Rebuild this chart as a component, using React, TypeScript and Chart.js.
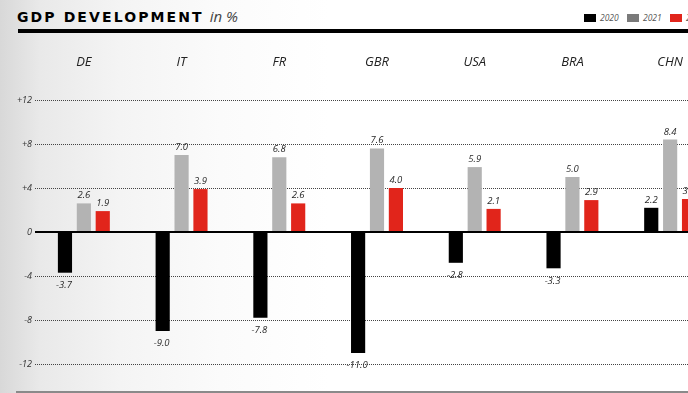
import React, { useEffect, useRef } from "react";
import { Chart, registerables } from "chart.js";

Chart.register(...registerables);

const categories = ["DE", "IT", "FR", "GBR", "USA", "BRA", "CHN"];
const seriesNames = ["2020", "2021", "2022"];
const values2020 = [-3.7, -9.0, -7.8, -11.0, -2.8, -3.3, 2.2];
const values2021 = [2.6, 7.0, 6.8, 7.6, 5.9, 5.0, 8.4];
const values2022 = [1.9, 3.9, 2.6, 4.0, 2.1, 2.9, 3.0];
const yTicks = [-12, -8, -4, 0, 4, 8, 12];

const barColors = ["#000000", "#b3b3b3", "#e1251b"];
const legendColors = ["#000000", "#7a7a7a", "#e1251b"];

const labelPlugin = {
  id: "valueLabels",
  afterDatasetsDraw(chart: any) {
    const ctx = chart.ctx;
    ctx.save();
    ctx.font = "italic 9.5px 'Open Sans', 'Noto Sans', sans-serif";
    ctx.fillStyle = "#2a2a2a";
    ctx.textAlign = "center";
    chart.data.datasets.forEach((ds: any, di: number) => {
      const meta = chart.getDatasetMeta(di);
      meta.data.forEach((el: any, i: number) => {
        const v = ds.data[i];
        const txt = v.toFixed(1);
        if (v >= 0) {
          ctx.textBaseline = "bottom";
          ctx.fillText(txt, el.x, el.y - 3);
        } else {
          ctx.textBaseline = "top";
          ctx.fillText(txt, el.x - 1, el.y + 8);
        }
      });
    });
    ctx.restore();
  },
};

function GdpChart() {
  const ref = useRef<HTMLCanvasElement>(null);
  useEffect(() => {
    if (!ref.current) return;
    const chart = new Chart(ref.current, {
      type: "bar",
      data: {
        labels: categories,
        datasets: [values2020, values2021, values2022].map((d, i) => ({
          label: seriesNames[i],
          data: d,
          backgroundColor: barColors[i],
          borderWidth: 0,
          categoryPercentage: 0.58,
          barPercentage: 0.75,
        })),
      },
      options: {
        animation: false,
        responsive: false,
        devicePixelRatio: 1,
        layout: { padding: { top: 40, bottom: 29, left: 0, right: 0 } },
        plugins: {
          legend: { display: false },
          tooltip: { enabled: false },
          title: { display: false },
        },
        scales: {
          x: {
            position: "top",
            grid: { display: false, drawTicks: false },
            border: { display: false },
            ticks: {
              padding: 30,
              color: "#222222",
              font: { family: "'Open Sans', 'Noto Sans', sans-serif", size: 13, style: "italic" },
            },
            afterFit: (axis: any) => {
              axis.height = 60;
            },
          },
          y: {
            min: -12,
            max: 12,
            afterBuildTicks: (axis: any) => {
              axis.ticks = yTicks.map((v) => ({ value: v }));
            },
            grid: {
              drawTicks: false,
              color: (c: any) => (c.tick && c.tick.value === 0 ? "#000000" : "#444444"),
              lineWidth: (c: any) => (c.tick && c.tick.value === 0 ? 2 : 1),
            },
            border: {
              display: false,
              dash: (c: any) => (c.tick && c.tick.value === 0 ? [] : [1, 1]),
            } as any,
            ticks: {
              padding: 3,
              color: "#333333",
              font: { family: "'Open Sans', 'Noto Sans', sans-serif", size: 9, style: "italic" },
              callback: (v: any) => (v > 0 ? "+" + v : String(v)),
            },
            afterFit: (axis: any) => {
              axis.width = 35;
            },
          },
        },
      },
      plugins: [labelPlugin],
    });
    return () => chart.destroy();
  }, []);
  return (
    <canvas
      ref={ref}
      width={719}
      height={393}
      style={{ position: "absolute", left: 0, top: 0, width: 719, height: 393 }}
    />
  );
}

export default function App() {
  return (
    <div
      style={{
        position: "fixed",
        left: 0,
        top: 0,
        width: 688,
        height: 393,
        overflow: "hidden",
        background:
          "linear-gradient(to right, #d8d8d8 0px, #e9e9e9 40px, #f4f4f4 120px, #fbfbfb 220px, #ffffff 330px)",
        fontFamily: "'Open Sans', 'Noto Sans', sans-serif",
      }}
    >
      <div
        style={{
          position: "absolute",
          left: 17,
          top: 7,
          whiteSpace: "nowrap",
          lineHeight: "18px",
        }}
      >
        <span
          style={{
            fontFamily: "'DejaVu Sans', sans-serif",
            fontWeight: 900,
            fontSize: 14,
            letterSpacing: 2.1,
            color: "#000",
          }}
        >
          GDP DEVELOPMENT
        </span>
        <span style={{ fontStyle: "italic", fontSize: 15, color: "#444", marginLeft: 6 }}>in %</span>
      </div>
      <div
        style={{ position: "absolute", left: 18, top: 29, width: 700, height: 4, background: "#000" }}
      />
      {seriesNames.map((s, i) => (
        <React.Fragment key={s}>
          <div
            style={{
              position: "absolute",
              left: 584 + i * 43,
              top: 14,
              width: 12,
              height: 8,
              background: legendColors[i],
            }}
          />
          <div
            style={{
              position: "absolute",
              left: 600 + i * 43,
              top: 11,
              fontSize: 8.5,
              fontStyle: "italic",
              color: "#555",
              lineHeight: "14px",
            }}
          >
            {s}
          </div>
        </React.Fragment>
      ))}
      <GdpChart />
      <div
        style={{ position: "absolute", left: 16, top: 391, width: 700, height: 2, background: "#8a8a8a" }}
      />
    </div>
  );
}
